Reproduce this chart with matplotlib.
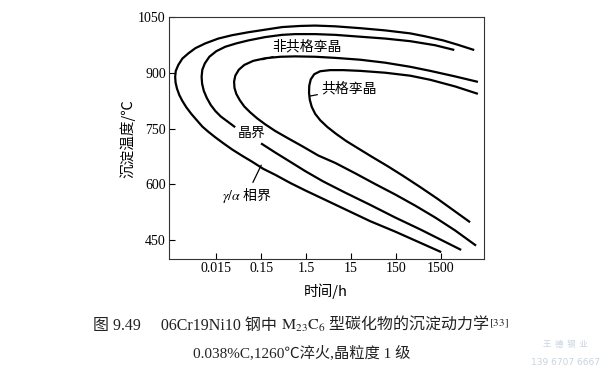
import matplotlib
matplotlib.use('Agg')
import matplotlib.pyplot as plt
from matplotlib.offsetbox import TextArea, HPacker, AnchoredOffsetbox

plt.rcParams['font.family'] = ['Liberation Serif', 'Noto Sans CJK SC']
plt.rcParams['mathtext.fontset'] = 'stix'

# time (h) / temperature (C) read off the C-curves
# gamma/alpha phase boundary
t_phase = [7850, 3640, 1690, 671, 311, 86.5, 24.0, 6.67, 2.39, 1.11, 0.442, 0.184, 0.0773,
           0.0335, 0.0166, 0.00853, 0.00511, 0.00357, 0.00263, 0.00214, 0.00188, 0.00182,
           0.00186, 0.00200, 0.00225, 0.00263, 0.00322, 0.00417, 0.00552, 0.00732, 0.00995,
           0.01425, 0.0215, 0.0340, 0.0569, 0.0948, 0.167, 0.308, 0.665, 1.43, 3.61, 11.1,
           40.1, 144, 519, 1447]
T_phase = [963, 976, 988, 999, 1007, 1015, 1021, 1026, 1028, 1027, 1024, 1017, 1010,
           1002, 993, 980, 967, 953, 939, 922, 906, 890,
           874, 858, 841, 825, 808, 790, 773, 756, 742,
           727, 711, 694, 677, 661, 642, 626, 604, 584, 561, 533,
           501, 473, 443, 419]

# grain boundary (broken where the label sits)
t_gb_upper = [2818, 1120, 311, 86.5, 24.0, 6.67, 2.39, 0.859, 0.435, 0.184, 0.0773, 0.0418,
              0.0238, 0.0150, 0.0105, 0.00832, 0.00732, 0.00706, 0.00725, 0.00791, 0.00922,
              0.0113, 0.01425, 0.0189, 0.0264, 0.0377]
T_gb_upper = [963, 975, 986, 993, 998, 1003, 1005, 1005, 1003, 997, 988, 980,
              971, 959, 944, 926, 909, 890, 871, 852, 833,
              814, 798, 783, 770, 756]
t_gb_lower = [0.156, 0.308, 0.665, 1.43, 3.61, 11.1, 40.1, 144, 519, 1447, 4030]
T_gb_lower = [709, 686, 661, 636, 608, 578, 545, 511, 479, 452, 425]

# incoherent twin
t_incoh = [9490, 3120, 867, 311, 86.5, 24.0, 6.67, 2.39, 0.859, 0.398, 0.184, 0.0998, 0.0630,
           0.0475, 0.0397, 0.0373, 0.0381, 0.0418, 0.0500, 0.0630, 0.0857, 0.122, 0.184,
           0.308, 0.600, 1.23, 2.79, 6.67, 18.6, 51.8, 144, 402, 1120, 3120, 8690]
T_incoh = [877, 891, 906, 917, 928, 936, 941, 944, 945, 944, 940, 933, 922,
           909, 893, 877, 860, 844, 827, 810, 794, 778, 762,
           744, 724, 703, 678, 658, 630, 601, 573, 543, 511, 476, 437]

# coherent twin
t_coh = [9490, 3120, 867, 311, 86.5, 24.0, 10.0, 5.16, 3.09, 2.27, 1.90, 1.76, 1.74, 1.81,
         2.00, 2.39, 3.09, 4.43, 7.02, 11.7, 21.7, 44.4, 95.7, 217, 519, 1240, 2818, 6400]
T_coh = [845, 864, 882, 893, 901, 906, 908, 908, 905, 897, 883, 866, 847, 828,
         809, 790, 773, 755, 736, 717, 697, 674, 650, 623, 593, 562, 531, 500]

xticks = [0.015, 0.15, 1.5, 15, 150, 1500]
xticklabels = ['0.015', '0.15', '1.5', '15', '150', '1500']
yticks = [450, 600, 750, 900, 1050]

fig = plt.figure(figsize=(6, 3.76), dpi=100)
ax = fig.add_axes([0.281, 0.31, 0.525, 0.6437])

lw = 1.6
ax.plot(t_phase, T_phase, color='black', lw=lw)
ax.plot(t_gb_upper, T_gb_upper, color='black', lw=lw)
ax.plot(t_gb_lower, T_gb_lower, color='black', lw=lw)
ax.plot(t_incoh, T_incoh, color='black', lw=lw)
ax.plot(t_coh, T_coh, color='black', lw=lw)

ax.set_xscale('log')
ax.set_xlim(0.0013, 13400)
ax.set_ylim(398, 1050)
ax.set_xticks(xticks)
ax.set_xticklabels(xticklabels)
ax.minorticks_off()
ax.set_yticks(yticks)
ax.tick_params(direction='in', length=4, width=0.8, labelsize=10, pad=2)
for s in ax.spines.values():
    s.set_linewidth(0.8)
    s.set_color('#333333')

cjk = ['Noto Sans CJK SC', 'DejaVu Sans']
ax.set_xlabel('时间/h', family=cjk, fontsize=10.5)
ax.xaxis.set_label_coords(0.5, -0.1)
ax.set_ylabel('沉淀温度/℃', family=cjk, fontsize=10.5)
ax.yaxis.set_label_coords(-0.105, 0.5)

line = dict(arrowstyle='-', color='black', lw=0.9, shrinkA=1, shrinkB=0)
ax.annotate('非共格孪晶', xy=(0.16, 936), xytext=(1.56, 972), family=cjk, fontsize=10,
            ha='center', va='center', arrowprops=line)
ax.annotate('共格孪晶', xy=(1.8, 838), xytext=(13.7, 858), family=cjk, fontsize=10,
            ha='center', va='center', arrowprops=line)
ax.text(0.093, 740, '晶界', family=cjk, fontsize=10, ha='center', va='center')
ax.annotate(r'$\gamma/\alpha$ 相界', xy=(0.15, 652), xytext=(0.07, 569), family=cjk,
            fontsize=10, ha='center', va='center', arrowprops=line)

# caption, pieced together so CJK text and sub/superscripts both render
cap = dict(family=['Liberation Serif', 'Noto Sans CJK SC'], fontsize=11.5, color='#222222')
math = dict(fontsize=11.5, color='#222222')
pieces = [TextArea('图 9.49　 06Cr19Ni10 钢中 ', textprops=cap),
          TextArea(r'$\mathrm{M}_{23}\mathrm{C}_{6}$', textprops=math),
          TextArea(' 型碳化物的沉淀动力学', textprops=cap),
          TextArea(r'$^{[33]}$', textprops=math)]
row = HPacker(children=pieces, align='baseline', pad=0, sep=0)
caption = AnchoredOffsetbox(loc='center', child=row, pad=0, borderpad=0, frameon=False,
                            bbox_to_anchor=(0.502, 0.133), bbox_transform=fig.transFigure)
fig.add_artist(caption)
fig.text(0.502, 0.061, '0.038%C,1260℃淬火,晶粒度 1 级',
         family=['Liberation Serif', 'Noto Sans CJK SC'], fontsize=11,
         ha='center', va='center', color='#222222')

# faint watermark
fig.text(0.942, 0.083, '王  德  钢  业', family=cjk, fontsize=6, ha='center', va='center',
         color='#c9d3df')
fig.text(0.942, 0.036, '139 6707 6667', family='DejaVu Sans', fontsize=6.5, ha='center',
         va='center', color='#c9d3df')

plt.savefig('out.png', dpi=100)
